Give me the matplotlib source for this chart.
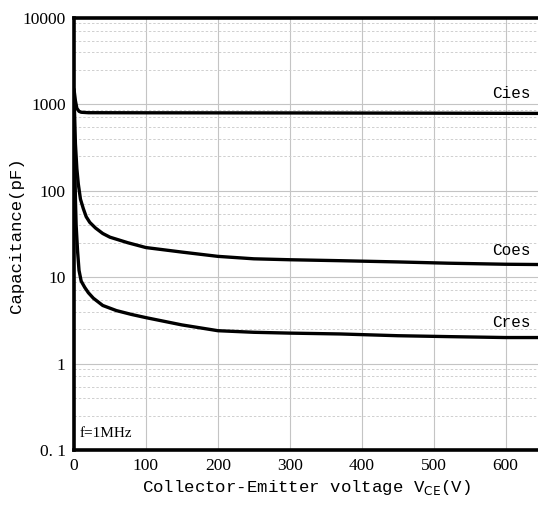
import matplotlib
matplotlib.use("Agg")
import matplotlib.pyplot as plt
import numpy as np

# Capacitance vs collector-emitter voltage (f = 1 MHz)
v_cies = [0, 2, 4, 7, 10, 20, 100, 300, 500, 645]
c_cies = [1500, 1100, 900, 830, 810, 800, 798, 795, 790, 785]

v_coes = [0, 1, 2, 4, 6, 9, 13, 17, 22, 30, 40, 50, 75, 100, 150, 200, 250, 300, 370, 450, 520, 600, 645]
c_coes = [1300, 700, 350, 180, 120, 80, 62, 50, 43, 37, 32, 29, 25, 22, 19.5, 17.4, 16.3, 15.9, 15.5, 15.0, 14.5, 14.1, 14.0]

v_cres = [0, 1, 2, 3, 5, 7, 10, 15, 20, 27, 40, 59, 80, 100, 150, 200, 250, 300, 370, 450, 520, 600, 645]
c_cres = [900, 250, 80, 40, 20, 12, 9.0, 7.6, 6.6, 5.7, 4.7, 4.1, 3.7, 3.4, 2.8, 2.4, 2.3, 2.25, 2.2, 2.1, 2.05, 2.0, 2.0]

x_ticks = [0, 100, 200, 300, 400, 500, 600]
y_ticks = [0.1, 1, 10, 100, 1000, 10000]
y_tick_labels = ["0. 1", "1", "10", "100", "1000", "10000"]
minor_subs = [2.5, 4.0, 5.4, 7.1, 8.7]

mono = "Liberation Mono"
serif = "Liberation Serif"

fig = plt.figure(figsize=(5.38, 5.05), dpi=100)
ax = fig.add_axes([0.1375, 0.109, 0.8625, 0.8555])

ax.set_yscale("log")
ax.set_xlim(0, 645)
ax.set_ylim(0.1, 10000)

# grid
for x in x_ticks[1:]:
    ax.axvline(x, color="#c4c4c4", lw=0.8, zorder=0)
for y in y_ticks[1:-1]:
    ax.axhline(y, color="#c4c4c4", lw=0.8, zorder=0)
for dec in y_ticks[:-1]:
    for s in minor_subs:
        ax.axhline(dec * s, color="#cfcfcf", lw=0.7, ls=(0, (2.5, 2)), zorder=0)

lw = 2.4
for v, c in [(v_cies, c_cies), (v_coes, c_coes), (v_cres, c_cres)]:
    ax.plot(v, c, color="black", lw=lw, solid_joinstyle="round",
            solid_capstyle="round")

ax.text(635, 1080, "Cies", fontsize=11.5, family=mono, ha="right", va="bottom")
ax.text(635, 16.5, "Coes", fontsize=11.5, family=mono, ha="right", va="bottom")
ax.text(635, 2.45, "Cres", fontsize=11.5, family=mono, ha="right", va="bottom")
ax.text(8, 0.132, "f=1MHz", fontsize=11, family=serif, ha="left", va="bottom")

ax.set_xticks(x_ticks)
ax.set_xticklabels([str(x) for x in x_ticks], family=serif, fontsize=12.5)
ax.set_yticks(y_ticks)
ax.set_yticklabels(y_tick_labels, family=serif, fontsize=12.5)
ax.yaxis.set_minor_locator(matplotlib.ticker.NullLocator())
ax.tick_params(axis="both", length=0, pad=6)

for side in ["left", "top", "bottom"]:
    ax.spines[side].set_linewidth(2.6)
    ax.spines[side].set_color("black")
ax.spines["right"].set_visible(False)

ax.set_xlabel(r"Collector-Emitter voltage V$_{\mathrm{CE}}$(V)", family=mono,
              fontsize=12.5, labelpad=3)
fig.text(17 / 538, 0.535, "Capacitance(pF)", family=mono, fontsize=12.5,
         rotation=90, ha="center", va="center")

fig.savefig("out.png", dpi=100)
